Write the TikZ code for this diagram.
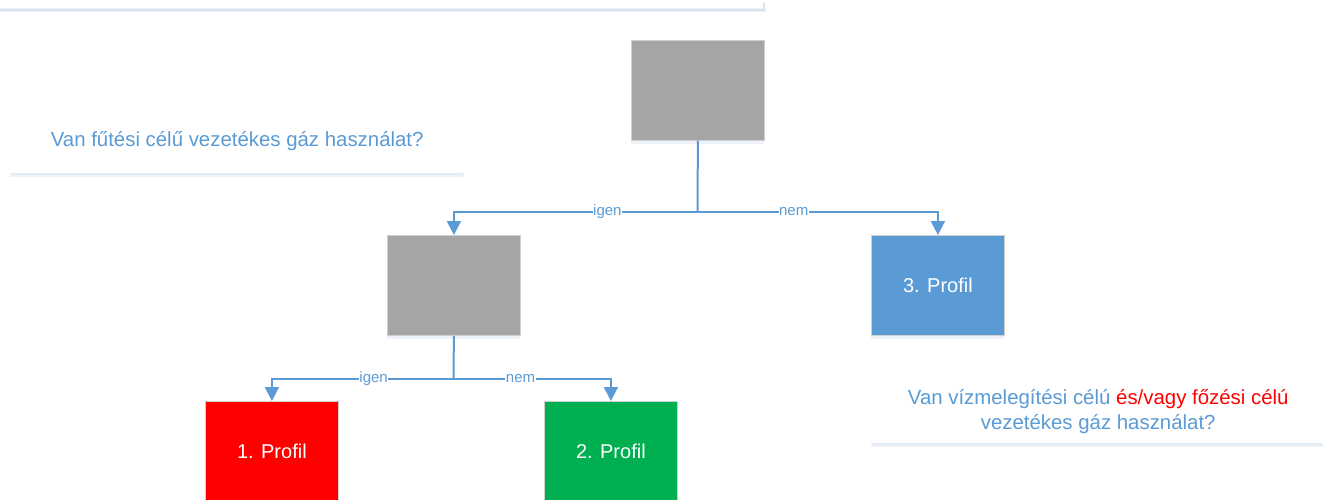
\documentclass[tikz,border=0pt]{standalone}
\usepackage{fontspec}
\setmainfont{Liberation Sans}
\usetikzlibrary{arrows.meta}
\definecolor{lblue}{HTML}{5B9BD5}
\definecolor{gbox}{HTML}{A5A5A5}
\definecolor{pred}{HTML}{FF0000}
\definecolor{pgreen}{HTML}{00B050}
\definecolor{shad}{HTML}{D5E2F1}
\definecolor{bord}{HTML}{D0D0D0}
\begin{document}
\begin{tikzpicture}[x=1pt,y=-1pt,
  box/.style={draw=bord, line width=0.8pt, minimum width=133pt, minimum height=100pt,
    inner sep=0pt, anchor=north west, font=\fontsize{20}{24}\selectfont, text=white},
  card/.style={fill=white, inner sep=0pt, anchor=north west,
    font=\fontsize{20.4}{25}\selectfont, text=lblue, align=center},
  conn/.style={draw=lblue, line width=2pt},
  arr/.style={conn, -{Triangle[width=14pt,length=14pt]}},
  lbl/.style={font=\fontsize{15}{17}\selectfont, text=lblue, fill=white, inner sep=0.5pt},
  shadowbox/.style={fill=shad, opacity=0.4, draw=none}
]
\useasboundingbox (0,0) rectangle (1323,500);
\clip (0,0) rectangle (1323,500);
\fill[white] (0,0) rectangle (1323,500);

% remnant of a card above the picture
\fill[shadowbox] (0,8) rectangle (766,12);
\draw[draw=shad, line width=1.5pt] (0,10) -- (764,10) -- (764,3);

% shadows
\fill[shadowbox] (10,110) rectangle (464,177);
\fill[shadowbox] (11,112) rectangle (463,175);
\fill[shadowbox] (871,382) rectangle (1330,447);
\fill[shadowbox] (872,384) rectangle (1330,445);
\foreach \x/\y in {631/40, 387/235, 871/235, 205/401, 544/401}{
  \fill[shadowbox] (\x,\y+2) rectangle (\x+133,\y+104);
}

% question cards
\node[card, minimum width=454pt, minimum height=65pt] (q1) at (10,108)
  {Van fűtési célű vezetékes gáz használat?};
\node[card, minimum width=454pt, minimum height=63pt] (q2) at (871,380)
  {Van vízmelegítési célú \textcolor{pred}{és/vagy főzési célú}\\vezetékes gáz használat?};

% boxes
\node[box, fill=gbox] (g1) at (631,40) {};
\node[box, fill=gbox] (g2) at (387,235) {};
\node[box, fill=lblue] (p3) at (871,235) {3. Profil};
\node[box, fill=pred] (p1) at (205,401) {1. Profil};
\node[box, fill=pgreen] (p2) at (544,401) {2. Profil};

% connectors
\coordinate (j1) at (697.5,212);
\coordinate (j2) at (453.5,379);
\draw[conn] (g1.south) -- (j1);
\draw[arr] (j1) -| node[lbl, pos=0.185] {igen} (g2.north);
\draw[arr] (j1) -| node[lbl, pos=0.2] {nem} (p3.north);
\draw[conn] (g2.south) -- (j2);
\draw[arr] (j2) -| node[lbl, pos=0.22] {igen} (p1.north);
\draw[arr] (j2) -| node[lbl, pos=0.213] {nem} (p2.north);
\end{tikzpicture}
\end{document}
